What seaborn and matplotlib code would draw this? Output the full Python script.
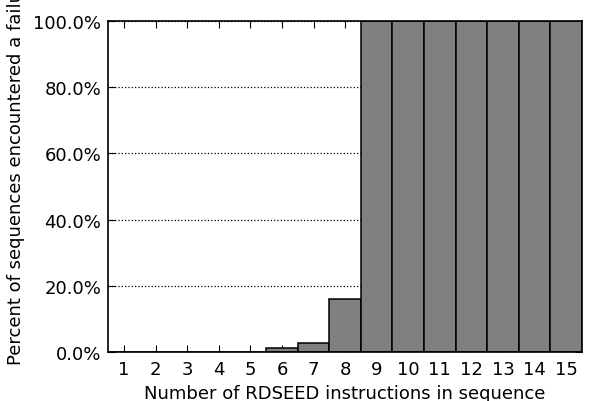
import numpy as np
import pandas as pd
import matplotlib
matplotlib.use('Agg')
import matplotlib.pyplot as plt
import seaborn as sns
from matplotlib.ticker import FuncFormatter

counts = list(range(1, 16))
fail_rate = [0.0, 0.0, 0.0, 0.0, 0.0, 0.012, 0.028, 0.16,
             1.0, 1.0, 1.0, 1.0, 1.0, 1.0, 1.0]

df = pd.DataFrame({'n': counts, 'rate': fail_rate})

sns.set_style('ticks')
plt.rcParams['font.family'] = ['DejaVu Sans']
plt.rcParams['text.color'] = 'black'
plt.rcParams['axes.labelcolor'] = 'black'
plt.rcParams['xtick.color'] = 'black'
plt.rcParams['ytick.color'] = 'black'

fig, ax = plt.subplots(figsize=(5.92, 4.02), dpi=100)
sns.barplot(data=df, x='n', y='rate', color='#808080', saturation=1,
            edgecolor='black', linewidth=1.1, width=1.0, ax=ax)

ax.set_xlim(-0.5, 14.5)
ax.set_ylim(0, 1.0)
ax.set_yticks([0, 0.2, 0.4, 0.6, 0.8, 1.0])
ax.yaxis.set_major_formatter(FuncFormatter(lambda v, p: '%.1f%%' % (v * 100)))
ax.yaxis.grid(True, linestyle=':', color='black', linewidth=0.9)
ax.set_axisbelow(True)

ax.tick_params(axis='x', direction='in', top=True, bottom=True, length=5,
               labelsize=13, pad=6)
ax.tick_params(axis='y', direction='in', left=True, right=True, length=5,
               labelsize=13, pad=5)
for s in ax.spines.values():
    s.set_visible(True)
    s.set_color('black')
    s.set_linewidth(1.2)

ax.set_xlabel('Number of RDSEED instructions in sequence', fontsize=13, labelpad=4)
ax.set_ylabel('Percent of sequences encountered a failure', fontsize=13)
# label is shifted up and clipped at the top edge, as in the original
ax.yaxis.set_label_coords(-0.175, 0.557)

fig.subplots_adjust(left=0.183, right=0.983, top=0.945, bottom=0.122)
fig.savefig('out.png', dpi=100)
